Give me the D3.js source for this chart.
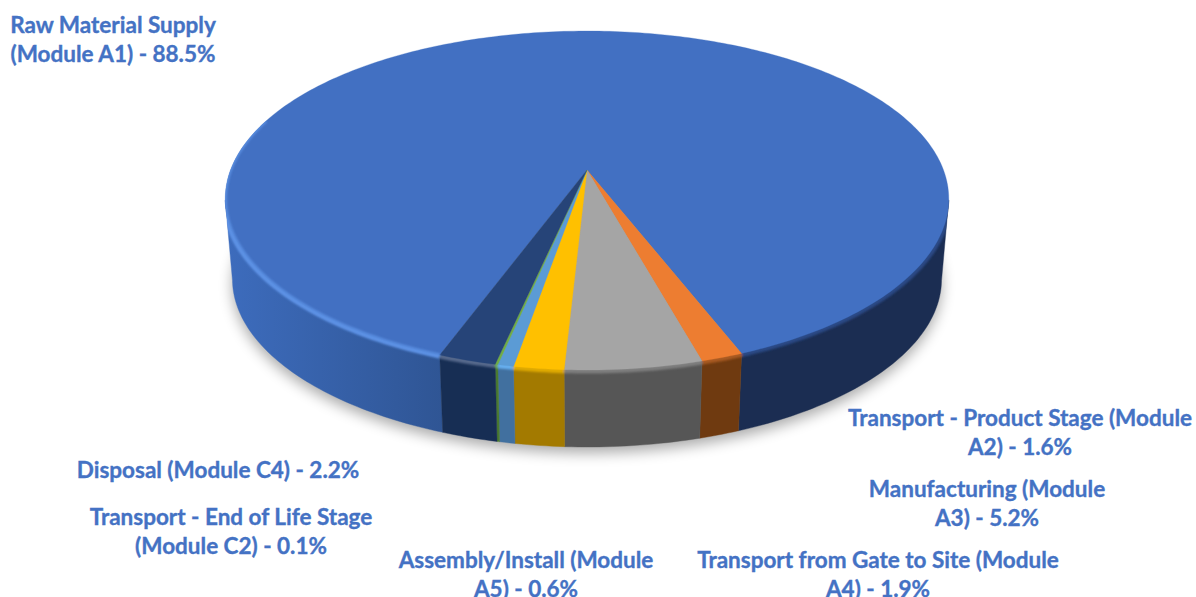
<!DOCTYPE html>
<html>
<head>
<meta charset="utf-8">
<script src="https://cdn.jsdelivr.net/npm/d3@7"></script>
<style>
  html, body { margin: 0; padding: 0; background: #fff; }
  svg { display: block; }
  text { font-family: Lato, "Noto Sans", sans-serif; font-weight: 700; fill: #4472c4; stroke: #4472c4; stroke-width: 0.35; text-anchor: middle; }
</style>
</head>
<body>
<script>
// slices in clockwise order, values as printed on the labels
var categories = ['Raw Material Supply', 'Transport - Product Stage', 'Manufacturing', 'Transport from Gate to Site', 'Assembly/Install', 'Transport - End of Life Stage', 'Disposal'];
var values = [88.5, 1.6, 5.2, 1.9, 0.6, 0.1, 2.2];
var labelLines = [
  ['Raw Material Supply', '(Module A1) - 88.5%'],
  ['Transport - Product Stage (Module', 'A2) - 1.6%'],
  ['Manufacturing (Module', 'A3) - 5.2%'],
  ['Transport from Gate to Site (Module', 'A4) - 1.9%'],
  ['Assembly/Install (Module', 'A5) - 0.6%'],
  ['Transport - End of Life Stage', '(Module C2) - 0.1%'],
  ['Disposal (Module C4) - 2.2%']
];

// styles and layout
var topColors = ['#4270c2', '#ed7d31', '#a5a5a5', '#ffc000', '#5b9bd5', '#70ad47', '#264478'];
var sideColors = ['#1b2d52', '#6f3a10', '#565656', '#a37a00', '#41709f', '#4a7a30', '#172e54'];
var rimColors = ['#2c4a85', '#a85a20', '#7e7e7e', '#e0aa00', '#66aeee', '#70ad47', '#56698c'];
var labelPos = [[113, 33], [1020, 426], [987, 497], [878, 568], [526, 568], [231, 525], [218, 478]];

var width = 1196, height = 597, lineGap = 29;
var perspX = 0.17, perspY = 0.18; // perspective strength of the disc
var apexX = 587, apexY = 170;     // where the slices meet
var discA = 356.5, discB = 164;
var baseY = 251, baseScale = 0.98, // lower edge of the disc
    sideLimit = 1.75;             // past this angle the wall is hidden

var endOfBlue = 2.768;
var startOfBlue = endOfBlue - 2 * Math.PI * values[0] / d3.sum(values);
var pie = d3.pie().sort(null).startAngle(startOfBlue).endAngle(startOfBlue + 2 * Math.PI);
var arcs = pie(values);

function project(a, lower) {
  var u = Math.sin(a), v = -Math.cos(a);
  var s = lower ? baseScale : 1;
  return [apexX + s * discA * u / (1 - perspX * v), (lower ? baseY : apexY) + s * discB * v / (1 - perspY * v)];
}
function sample(a0, a1, lower) {
  var n = Math.max(2, Math.ceil(Math.abs(a1 - a0) * 60));
  return d3.range(n + 1).map(function (i) { return project(a0 + (a1 - a0) * i / n, lower); });
}
var line = d3.line();
var leftEdge = 2 * Math.PI - sideLimit;

var svg = d3.select('body').append('svg').attr('width', width).attr('height', height);
var defs = svg.append('defs');
defs.append('filter').attr('id', 'shadow').attr('filterUnits', 'userSpaceOnUse')
  .attr('x', 0).attr('y', 0).attr('width', width).attr('height', height)
  .append('feGaussianBlur').attr('stdDeviation', 7);
defs.append('filter').attr('id', 'soft').attr('filterUnits', 'userSpaceOnUse')
  .attr('x', 0).attr('y', 0).attr('width', width).attr('height', height)
  .append('feGaussianBlur').attr('stdDeviation', 1.3);
var leftGrad = defs.append('linearGradient').attr('id', 'leftWall').attr('gradientUnits', 'userSpaceOnUse')
  .attr('x1', 225).attr('x2', 444).attr('y1', 0).attr('y2', 0);
leftGrad.append('stop').attr('offset', 0).attr('stop-color', '#3d6cbd');
leftGrad.append('stop').attr('offset', 1).attr('stop-color', '#2f5594');

// keeps the soft bands inside the outline of the disc
var clip = defs.append('clipPath').attr('id', 'discClip');
clip.append('path').attr('d', line(sample(0, 2 * Math.PI, false)) + 'Z');
clip.append('path').attr('d', line(sample(sideLimit, leftEdge, false).concat(sample(leftEdge, sideLimit, true))) + 'Z');

// soft shadow under the disc
svg.append('path')
  .attr('d', line(sample(0, 2 * Math.PI, true).map(function (p) { return [p[0], p[1] + 6]; })) + 'Z')
  .attr('fill', '#000').attr('opacity', 0.33).attr('filter', 'url(#shadow)');

// walls, the big slice is seen on both sides of the wedge
function wall(a0, a1, fill) {
  svg.append('path')
    .attr('d', line(sample(a0, a1, false).concat(sample(a1, a0, true))) + 'Z')
    .attr('fill', fill).attr('stroke', fill).attr('stroke-width', 0.4);
}
arcs.forEach(function (d, i) {
  if (i === 0) {
    wall(sideLimit, d.endAngle, sideColors[0]);
    wall(d.startAngle + 2 * Math.PI, leftEdge, 'url(#leftWall)');
  } else {
    wall(d.startAngle, d.endAngle, sideColors[i]);
  }
});

// soft band where the top turns into the wall
function rim(parent, a0, a1, color, w) {
  parent.append('path').attr('d', line(sample(a0, a1, false)))
    .attr('fill', 'none').attr('stroke', color).attr('stroke-width', w);
}
var rims = svg.append('g').attr('clip-path', 'url(#discClip)').append('g').attr('filter', 'url(#soft)');
arcs.forEach(function (d, i) {
  if (i === 0) {
    rim(rims, sideLimit, d.endAngle, rimColors[0], 7);
    rim(rims, d.startAngle + 2 * Math.PI, leftEdge, '#5f93e6', 7);
  } else {
    rim(rims, d.startAngle, d.endAngle, rimColors[i], 7);
  }
});

// top face
svg.append('g').selectAll('path').data(arcs).enter().append('path')
  .attr('d', function (d) { return line([[apexX, apexY]].concat(sample(d.startAngle, d.endAngle, false))) + 'Z'; })
  .attr('fill', function (d, i) { return topColors[i]; })
  .attr('stroke', function (d, i) { return topColors[i]; })
  .attr('stroke-width', 0.3);

// the light edge on the left also reaches a little onto the top
var glow = svg.append('g').attr('clip-path', 'url(#discClip)').append('g').attr('filter', 'url(#soft)');
rim(glow, arcs[0].startAngle + 2 * Math.PI, leftEdge + 0.5, '#5a8fe2', 3);

// labels
var labels = svg.append('g').attr('font-size', 22.5);
labelLines.forEach(function (lines, i) {
  lines.forEach(function (t, j) {
    labels.append('text')
      .attr('x', labelPos[i][0]).attr('y', labelPos[i][1] + j * lineGap)
      .text(t);
  });
});
</script>
</body>
</html>
